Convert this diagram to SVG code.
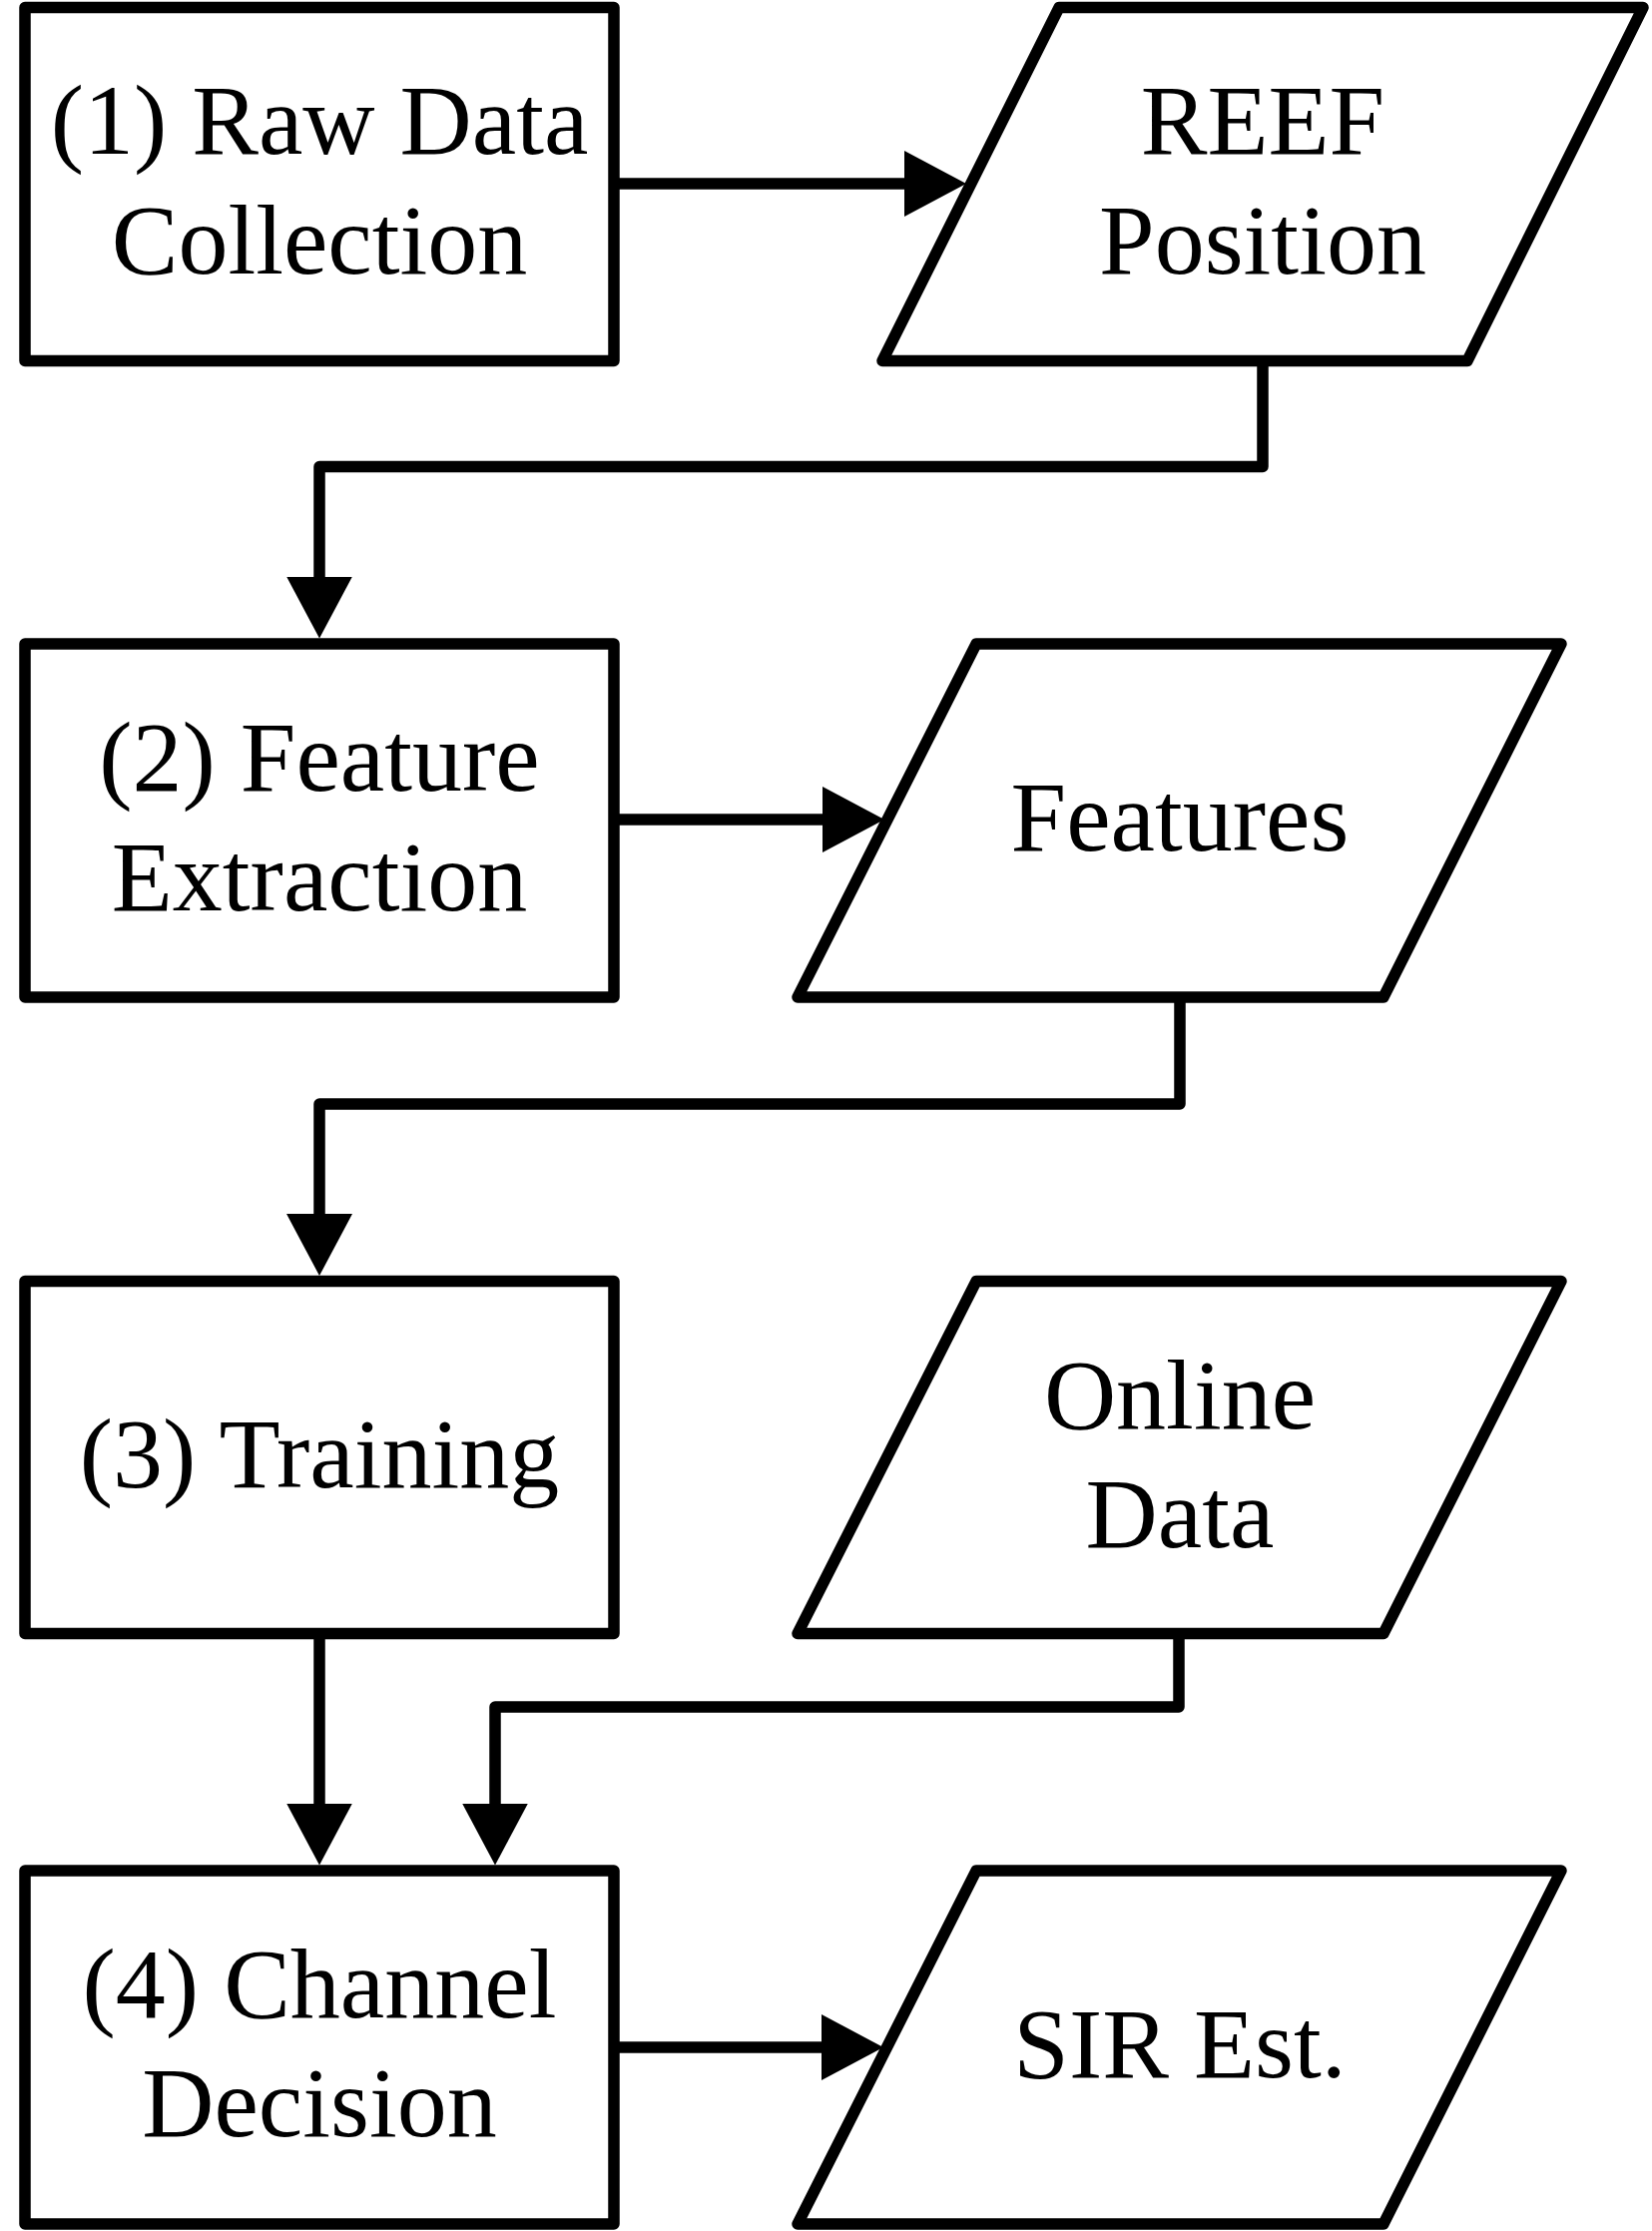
<svg xmlns="http://www.w3.org/2000/svg" width="1655" height="2235" viewBox="0 0 1655 2235">
  <style>
    .shape { fill: #ffffff; stroke: #000000; stroke-width: 11.5; stroke-linejoin: round; }
    .conn { fill: none; stroke: #000000; stroke-width: 11.5; stroke-linejoin: round; }
    .label { font-family: "Liberation Serif", "Times New Roman", serif; font-size: 100px; fill: #000000; text-anchor: middle; }
  </style>
  <defs>
    <marker id="arrow" markerUnits="userSpaceOnUse" markerWidth="64" markerHeight="68" viewBox="0 0 64 68" refX="12" refY="34" orient="auto">
      <path d="M0,1 L62,34 L0,67 Z" fill="#000000"/>
    </marker>
  </defs>
  <rect width="1655" height="2235" fill="#ffffff"/>

  <g id="connectors">
    <path class="conn" d="M615,184 H918" marker-end="url(#arrow)"/>
    <path class="conn" d="M1265,361.5 V467.5 H320 V589.5" marker-end="url(#arrow)"/>
    <path class="conn" d="M615,821 H836" marker-end="url(#arrow)"/>
    <path class="conn" d="M1182,999 V1106 H320 V1228" marker-end="url(#arrow)"/>
    <path class="conn" d="M320,1636.5 V1818.5" marker-end="url(#arrow)"/>
    <path class="conn" d="M1181,1636.5 V1710 H496 V1818.5" marker-end="url(#arrow)"/>
    <path class="conn" d="M615,2051 H835" marker-end="url(#arrow)"/>
  </g>

  <g id="raw-data-collection">
    <rect class="shape" x="25" y="7.5" width="590" height="354"/>
    <text class="label" x="320" y="154">(1) Raw Data</text>
    <text class="label" x="320" y="274">Collection</text>
  </g>

  <g id="reef-position">
    <polygon class="shape" points="1061,7.5 1646,7.5 1470,361.5 884,361.5"/>
    <text class="label" x="1265" y="154">REEF</text>
    <text class="label" x="1265" y="274">Position</text>
  </g>

  <g id="feature-extraction">
    <rect class="shape" x="25" y="645" width="590" height="354"/>
    <text class="label" x="320" y="791.5">(2) Feature</text>
    <text class="label" x="320" y="911.5">Extraction</text>
  </g>

  <g id="features">
    <polygon class="shape" points="978,645 1564,645 1386,999 799,999"/>
    <text class="label" x="1182" y="852">Features</text>
  </g>

  <g id="training">
    <rect class="shape" x="25" y="1283.5" width="590" height="353"/>
    <text class="label" x="320" y="1490">(3) Training</text>
  </g>

  <g id="online-data">
    <polygon class="shape" points="978,1283.5 1564,1283.5 1386,1636.5 799,1636.5"/>
    <text class="label" x="1182" y="1431">Online</text>
    <text class="label" x="1182" y="1550">Data</text>
  </g>

  <g id="channel-decision">
    <rect class="shape" x="25" y="1874" width="590" height="354"/>
    <text class="label" x="320" y="2021">(4) Channel</text>
    <text class="label" x="320" y="2140">Decision</text>
  </g>

  <g id="sir-est">
    <polygon class="shape" points="978,1874 1564,1874 1386,2228 799,2228"/>
    <text class="label" x="1182" y="2081">SIR Est.</text>
  </g>
</svg>
